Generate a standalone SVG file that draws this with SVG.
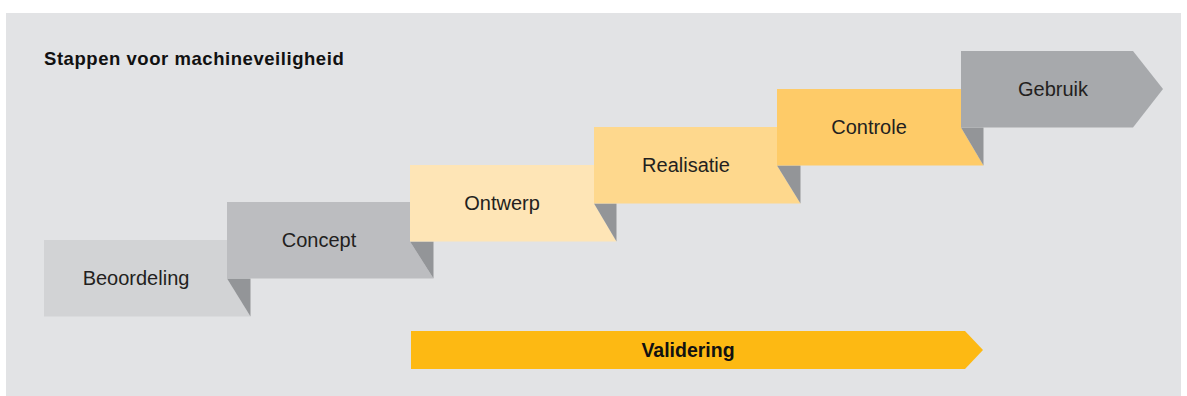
<svg xmlns="http://www.w3.org/2000/svg" width="1187" height="396" viewBox="0 0 1187 396">
<style>
.lbl{font-family:"Liberation Sans",Arial,sans-serif;font-size:20px;fill:#231f20;text-anchor:middle}
.ttl{font-family:"Liberation Sans",Arial,sans-serif;font-size:18.5px;font-weight:bold;fill:#111;letter-spacing:0.55px}
.val{font-family:"Liberation Sans",Arial,sans-serif;font-size:19.5px;font-weight:bold;fill:#111;text-anchor:middle}
.fold{fill:#939598}
</style>
<rect x="0" y="0" width="1187" height="396" fill="#ffffff"/>
<rect x="6" y="13" width="1175" height="383" fill="#e2e3e5"/>
<text class="ttl" x="44" y="65">Stappen voor machineveiligheid</text>
<g id="beoordeling">
<polygon points="44,240 227,240 227,278.5 250.5,316.5 44,316.5" fill="#d2d3d5"/>
<polygon class="fold" points="227,278.5 250.5,278.5 250.5,316.5"/>
<text class="lbl" x="136" y="285">Beoordeling</text>
</g>
<g id="concept">
<polygon points="227,202 410,202 410,241.5 433.5,278.5 227,278.5" fill="#bcbdc0"/>
<polygon class="fold" points="410,241.5 433.5,241.5 433.5,278.5"/>
<text class="lbl" x="319" y="247">Concept</text>
</g>
<g id="ontwerp">
<polygon points="410,165 594,165 594,203.5 616.5,241.5 410,241.5" fill="#fee5b6"/>
<polygon class="fold" points="594,203.5 616.5,203.5 616.5,241.5"/>
<text class="lbl" x="502" y="210">Ontwerp</text>
</g>
<g id="realisatie">
<polygon points="594,127 777,127 777,165.5 800.5,203.5 594,203.5" fill="#fed88d"/>
<polygon class="fold" points="777,165.5 800.5,165.5 800.5,203.5"/>
<text class="lbl" x="686" y="172">Realisatie</text>
</g>
<g id="controle">
<polygon points="777,89 961,89 961,127.5 983.5,165.5 777,165.5" fill="#fecb68"/>
<polygon class="fold" points="961,127.5 983.5,127.5 983.5,165.5"/>
<text class="lbl" x="869" y="134">Controle</text>
</g>
<g id="gebruik">
<polygon points="961,51 1133,51 1163,89 1133,127.5 961,127.5" fill="#a7a9ac"/>
<text class="lbl" x="1053" y="96">Gebruik</text>
</g>
<g id="validering">
<polygon points="411,331 965,331 983,350 965,369 411,369" fill="#fdb913"/>
<text class="val" x="688" y="357">Validering</text>
</g>
<g id="connectors"></g>
</svg>
